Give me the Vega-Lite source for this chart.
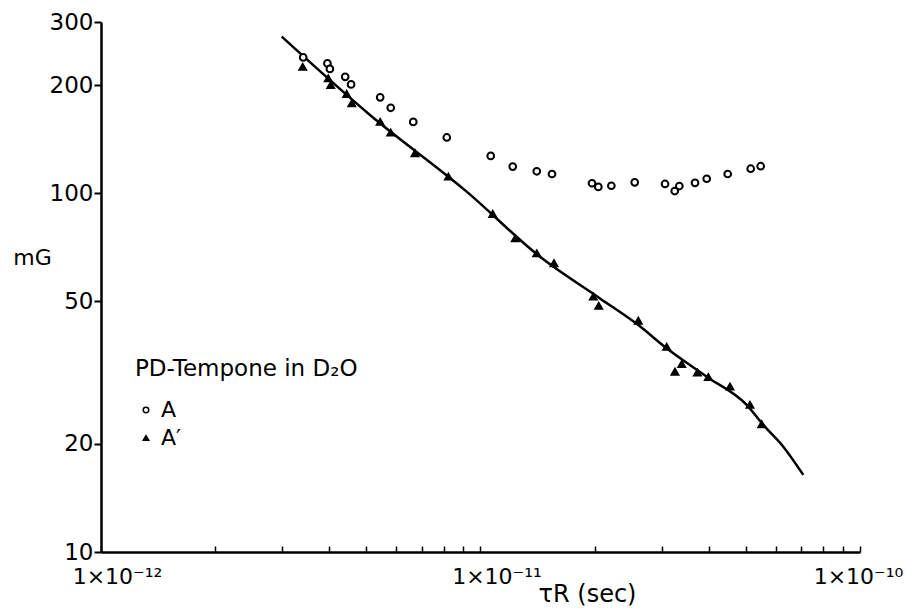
{
  "$schema": "https://vega.github.io/schema/vega-lite/v6.json",
  "width": 759,
  "height": 530,
  "autosize": {"type": "none"},
  "padding": {"left": 101, "top": 22, "right": 47, "bottom": 62},
  "background": "white",
  "config": {"view": {"stroke": null}, "font": "DejaVu Sans"},
  "datasets": {
    "points": [
      {"tau": 3.41e-12, "mG": 239, "series": "A"},
      {"tau": 3.95e-12, "mG": 230, "series": "A"},
      {"tau": 4.01e-12, "mG": 222, "series": "A"},
      {"tau": 4.40e-12, "mG": 211, "series": "A"},
      {"tau": 4.56e-12, "mG": 201, "series": "A"},
      {"tau": 5.44e-12, "mG": 185, "series": "A"},
      {"tau": 5.80e-12, "mG": 173, "series": "A"},
      {"tau": 6.65e-12, "mG": 158, "series": "A"},
      {"tau": 8.15e-12, "mG": 143, "series": "A"},
      {"tau": 1.064e-11, "mG": 127, "series": "A"},
      {"tau": 1.216e-11, "mG": 118.6, "series": "A"},
      {"tau": 1.407e-11, "mG": 115.1, "series": "A"},
      {"tau": 1.543e-11, "mG": 113.1, "series": "A"},
      {"tau": 1.967e-11, "mG": 106.6, "series": "A"},
      {"tau": 2.044e-11, "mG": 104.1, "series": "A"},
      {"tau": 2.212e-11, "mG": 104.9, "series": "A"},
      {"tau": 2.549e-11, "mG": 107.2, "series": "A"},
      {"tau": 3.064e-11, "mG": 106.1, "series": "A"},
      {"tau": 3.249e-11, "mG": 101.4, "series": "A"},
      {"tau": 3.341e-11, "mG": 104.7, "series": "A"},
      {"tau": 3.675e-11, "mG": 106.9, "series": "A"},
      {"tau": 3.945e-11, "mG": 109.7, "series": "A"},
      {"tau": 4.481e-11, "mG": 113.1, "series": "A"},
      {"tau": 5.152e-11, "mG": 117.0, "series": "A"},
      {"tau": 5.473e-11, "mG": 118.9, "series": "A"},
      {"tau": 3.40e-12, "mG": 225, "series": "A′"},
      {"tau": 3.97e-12, "mG": 209, "series": "A′"},
      {"tau": 4.03e-12, "mG": 200, "series": "A′"},
      {"tau": 4.44e-12, "mG": 189, "series": "A′"},
      {"tau": 4.58e-12, "mG": 178, "series": "A′"},
      {"tau": 5.44e-12, "mG": 158, "series": "A′"},
      {"tau": 5.80e-12, "mG": 147.5, "series": "A′"},
      {"tau": 6.72e-12, "mG": 129.2, "series": "A′"},
      {"tau": 8.23e-12, "mG": 111.2, "series": "A′"},
      {"tau": 1.077e-11, "mG": 87.5, "series": "A′"},
      {"tau": 1.235e-11, "mG": 74.8, "series": "A′"},
      {"tau": 1.407e-11, "mG": 68.0, "series": "A′"},
      {"tau": 1.562e-11, "mG": 63.8, "series": "A′"},
      {"tau": 1.983e-11, "mG": 51.5, "series": "A′"},
      {"tau": 2.049e-11, "mG": 48.5, "series": "A′"},
      {"tau": 2.605e-11, "mG": 44.1, "series": "A′"},
      {"tau": 3.094e-11, "mG": 37.3, "series": "A′"},
      {"tau": 3.390e-11, "mG": 33.4, "series": "A′"},
      {"tau": 3.254e-11, "mG": 31.8, "series": "A′"},
      {"tau": 3.727e-11, "mG": 31.6, "series": "A′"},
      {"tau": 3.984e-11, "mG": 30.7, "series": "A′"},
      {"tau": 4.544e-11, "mG": 28.9, "series": "A′"},
      {"tau": 5.130e-11, "mG": 25.7, "series": "A′"},
      {"tau": 5.508e-11, "mG": 22.7, "series": "A′"}
    ],
    "curve": [
      {"tau": 2.993e-12, "mG": 273.1},
      {"tau": 5.114e-12, "mG": 165.2},
      {"tau": 9.196e-12, "mG": 101.0},
      {"tau": 1.435e-11, "mG": 66.5},
      {"tau": 2.065e-11, "mG": 50.9},
      {"tau": 2.605e-11, "mG": 42.9},
      {"tau": 3.094e-11, "mG": 36.96},
      {"tau": 3.945e-11, "mG": 30.8},
      {"tau": 5.029e-11, "mG": 25.7},
      {"tau": 5.561e-11, "mG": 22.6},
      {"tau": 6.279e-11, "mG": 19.66},
      {"tau": 7.089e-11, "mG": 16.4}
    ]
  },
  "encoding": {
    "x": {
      "field": "tau",
      "type": "quantitative",
      "scale": {"type": "log", "domain": [1e-12, 1e-10], "nice": false},
      "axis": {
        "values": [1e-12, 2e-12, 3e-12, 4e-12, 5e-12, 6e-12, 7e-12, 8e-12, 9e-12, 1e-11, 2e-11, 3e-11, 4e-11, 5e-11, 6e-11, 7e-11, 8e-11, 9e-11, 1e-10],
        "labelExpr": "datum.value < 1.05e-12 ? '1×10⁻¹²' : (abs(datum.value - 1e-11) < 1e-13 ? '1×10⁻¹¹' : (datum.value > 9.5e-11 ? '1×10⁻¹⁰' : ''))",
        "labelOverlap": false,
        "labelFlush": false,
        "labelFontSize": 22,
        "labelColor": "black",
        "labelOffset": {"condition": {"test": "datum.value > 9.5e-11", "value": -2}, "value": 16},
        "labelPadding": 20,
        "tickSize": -6,
        "tickWidth": 1.5,
        "tickColor": "black",
        "domainColor": "black",
        "domainWidth": 2.5,
        "grid": false,
        "title": "τR (sec)",
        "titleFontSize": 24,
        "titleFontWeight": "normal",
        "titleColor": "black",
        "titleX": 486,
        "titleY": 42,
        "titleBaseline": "middle"
      }
    },
    "y": {
      "field": "mG",
      "type": "quantitative",
      "scale": {"type": "log", "domain": [10, 300], "nice": false},
      "axis": {
        "values": [10, 20, 50, 100, 200, 300],
        "format": "d",
        "labelFontSize": 23,
        "labelColor": "black",
        "labelPadding": 1,
        "tickSize": 7,
        "tickWidth": 2,
        "tickColor": "black",
        "domainColor": "black",
        "domainWidth": 2.5,
        "grid": false,
        "title": "mG",
        "titleAngle": 0,
        "titleX": -69,
        "titleY": 235,
        "titleAlign": "center",
        "titleBaseline": "middle",
        "titleFontSize": 22,
        "titleFontWeight": "normal",
        "titleColor": "black"
      }
    }
  },
  "layer": [
    {
      "data": {"name": "curve"},
      "mark": {"type": "line", "color": "black", "strokeWidth": 2.5, "interpolate": "monotone"}
    },
    {
      "data": {"name": "points"},
      "mark": {"type": "point", "filled": true, "strokeWidth": 2, "size": 45, "opacity": 1},
      "encoding": {
        "stroke": {"value": "black"},
        "shape": {
          "field": "series",
          "type": "nominal",
          "scale": {"domain": ["A", "A′"], "range": ["circle", "triangle-up"]},
          "legend": {
            "title": "PD-Tempone in D₂O",
            "orient": "none",
            "legendX": 34,
            "legendY": 336,
            "titleLimit": 500,
            "titleFontSize": 23,
            "titleFontWeight": "normal",
            "titleColor": "black",
            "titlePadding": 18,
            "labelFontSize": 22,
            "labelColor": "black",
            "symbolSize": 30,
            "rowPadding": 6,
            "encode": {"symbols": {"update": {"stroke": {"value": "black"}, "strokeWidth": {"value": 1.5}}}}
          }
        },
        "fill": {
          "field": "series",
          "type": "nominal",
          "scale": {"domain": ["A", "A′"], "range": ["white", "black"]},
          "legend": {
            "title": "PD-Tempone in D₂O",
            "orient": "none",
            "legendX": 34,
            "legendY": 336,
            "titleLimit": 500,
            "titleFontSize": 23,
            "titleFontWeight": "normal",
            "titleColor": "black",
            "titlePadding": 18,
            "labelFontSize": 22,
            "labelColor": "black",
            "symbolSize": 30,
            "rowPadding": 6,
            "encode": {"symbols": {"update": {"stroke": {"value": "black"}, "strokeWidth": {"value": 1.5}}}}
          }
        }
      }
    }
  ]
}
